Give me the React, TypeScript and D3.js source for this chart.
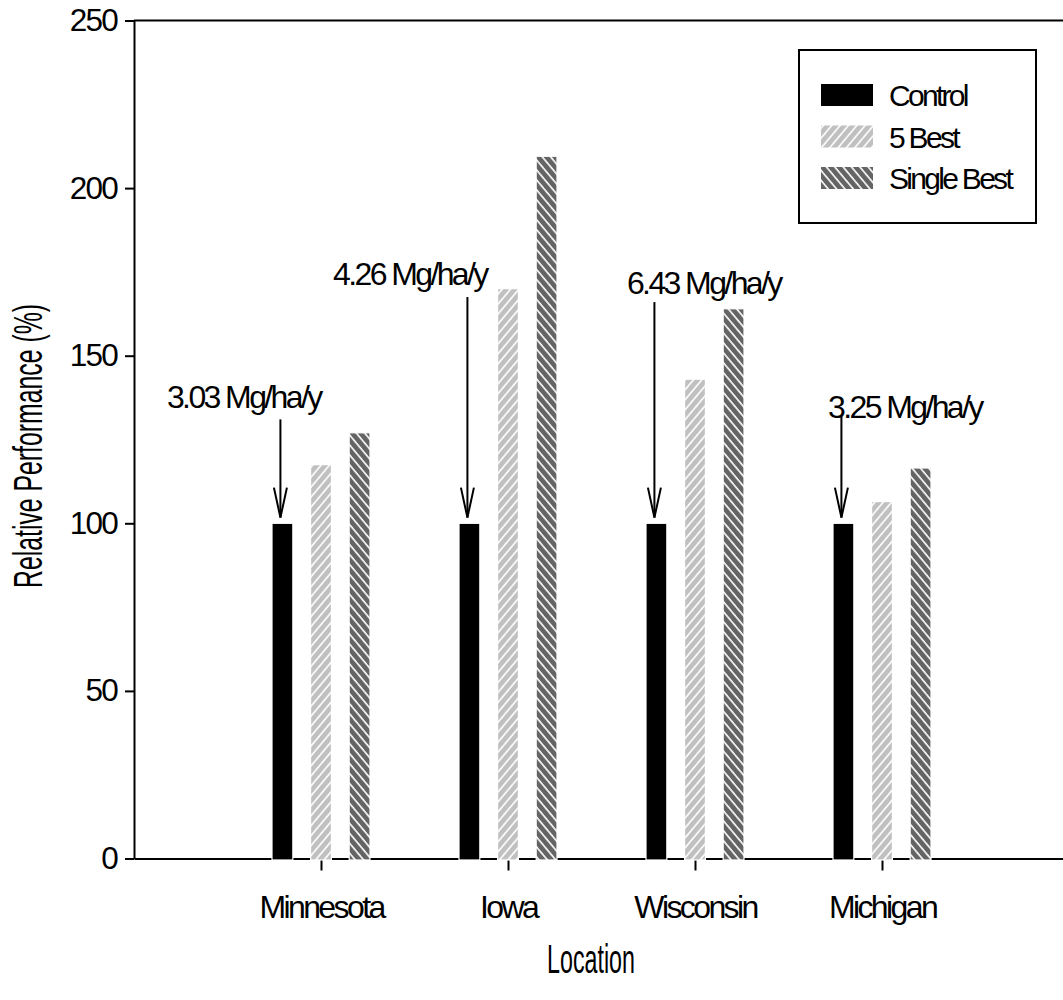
import * as React from 'react';
import * as d3 from 'd3';

// relative performance (% of control) per location
const locations = ['Minnesota', 'Iowa', 'Wisconsin', 'Michigan'];
const seriesNames = ['Control', '5 Best', 'Single Best'];
const control = [100, 100, 100, 100];
const fiveBest = [117.5, 170, 143, 106.5];
const singleBest = [127, 209.5, 164, 116.5];

// control yields written above the arrows
const yieldLabels = ['3.03 Mg/ha/y', '4.26 Mg/ha/y', '6.43 Mg/ha/y', '3.25 Mg/ha/y'];
const labelBaseline = [134.5, 171, 168.5, 131.5];
const arrowTop = [131, 167.5, 166, 132];
const labelStart = [0.176, 1.064, 2.636, 3.711];

const yTicks = [0, 50, 100, 150, 200, 250];

const W = 1063;
const H = 1000;
const FONT = 'Liberation Sans, Arial, sans-serif';

export default function App() {
  const svgRef = React.useRef<SVGSVGElement>(null);

  React.useEffect(() => {
    if (!svgRef.current) return;
    const svg = d3.select(svgRef.current);
    svg.selectAll('*').remove();

    const x = d3.scaleLinear().domain([0, 5]).range([134, 1069]);
    const y = d3.scaleLinear().domain([0, 250]).range([858.5, 20.5]);
    const inner = d3.scaleBand().domain(seriesNames).range([-49, 49]).paddingInner(0.46);

    const defs = svg.append('defs');
    const hatch = (id: string, bg: string, angle: number) => {
      const s = 6.4;
      const p = defs
        .append('pattern')
        .attr('id', id)
        .attr('patternUnits', 'userSpaceOnUse')
        .attr('width', s)
        .attr('height', s)
        .attr('patternTransform', `rotate(${angle})`);
      p.append('rect').attr('width', s).attr('height', s).attr('fill', bg);
      p.append('line')
        .attr('x1', 1)
        .attr('x2', 1)
        .attr('y1', 0)
        .attr('y2', s)
        .attr('stroke', '#fff')
        .attr('stroke-width', 1.6);
    };
    hatch('h-five', '#c0c0c0', 40);
    hatch('h-single', '#646464', -40);
    const fills = ['#000', 'url(#h-five)', 'url(#h-single)'];
    const values = [control, fiveBest, singleBest];

    // y axis
    const yAxis = d3.axisLeft(y).tickValues(yTicks).tickSize(9).tickSizeOuter(0).tickPadding(8);
    const yg = svg.append('g').attr('transform', `translate(${x(0)},0)`).call(yAxis);
    yg.select('.domain').attr('stroke-width', 2);
    yg.selectAll('.tick line').attr('stroke-width', 2);
    yg.selectAll('.tick text')
      .attr('font-family', FONT)
      .attr('font-size', 31.5)
      .attr('letter-spacing', -1.8)
      .attr('fill', '#000');

    // top frame line
    svg.append('line')
      .attr('x1', x(0))
      .attr('x2', x(5))
      .attr('y1', y(250))
      .attr('y2', y(250))
      .attr('stroke', '#000')
      .attr('stroke-width', 2);

    // x axis
    const xAxis = d3
      .axisBottom(x)
      .tickValues([1, 2, 3, 4])
      .tickFormat((d) => locations[Number(d) - 1])
      .tickSize(12)
      .tickSizeOuter(0)
      .tickPadding(25);
    const xg = svg.append('g').attr('transform', `translate(0,${y(0)})`).call(xAxis);
    xg.select('.domain').attr('stroke-width', 2);
    xg.selectAll('.tick line').attr('stroke-width', 2);
    xg.selectAll('.tick text')
      .attr('font-family', FONT)
      .attr('font-size', 32)
      .attr('letter-spacing', -2.6)
      .attr('fill', '#000');

    // bars
    const bars = svg.append('g');
    locations.forEach((loc, i) => {
      seriesNames.forEach((s, j) => {
        const v = values[j][i];
        bars
          .append('rect')
          .attr('x', x(i + 1) + (inner(s) as number))
          .attr('y', y(v))
          .attr('width', inner.bandwidth())
          .attr('height', y(0) - y(v) + 1.5)
          .attr('fill', fills[j])
          .attr('stroke', '#fff')
          .attr('stroke-width', 1.2);
      });
    });

    // yield annotations with arrows
    const ann = svg.append('g');
    locations.forEach((loc, i) => {
      const cx = x(i + 1) + (inner('Control') as number) + inner.bandwidth() / 2 - 2;
      const tip = y(101.7);
      ann.append('line')
        .attr('x1', cx)
        .attr('x2', cx)
        .attr('y1', y(arrowTop[i]))
        .attr('y2', tip)
        .attr('stroke', '#000')
        .attr('stroke-width', 2);
      ann.append('path')
        .attr('d', `M${cx - 6.5},${tip - 30}L${cx},${tip}L${cx + 6.5},${tip - 30}`)
        .attr('fill', 'none')
        .attr('stroke', '#000')
        .attr('stroke-width', 2);
      ann.append('text')
        .attr('x', x(labelStart[i]))
        .attr('y', y(labelBaseline[i]))
        .attr('font-family', FONT)
        .attr('font-size', 32)
        .attr('letter-spacing', -2.6)
        .text(yieldLabels[i]);
    });

    // legend
    const lg = svg.append('g');
    lg.append('rect')
      .attr('x', 799)
      .attr('y', 50)
      .attr('width', 237)
      .attr('height', 173)
      .attr('fill', '#fff')
      .attr('stroke', '#000')
      .attr('stroke-width', 2);
    seriesNames.forEach((s, j) => {
      const ry = 84 + j * 41.5;
      lg.append('rect').attr('x', 821).attr('y', ry).attr('width', 52).attr('height', 22).attr('fill', fills[j]);
      lg.append('text')
        .attr('x', 889)
        .attr('y', ry + 22)
        .attr('font-family', FONT)
        .attr('font-size', 30)
        .attr('letter-spacing', -2.7)
        .text(s);
    });

    // axis titles
    svg.append('text')
      .attr('transform', `translate(42,446) rotate(-90)`)
      .attr('text-anchor', 'middle')
      .attr('font-family', FONT)
      .attr('font-size', 40)
      .attr('textLength', 284)
      .attr('lengthAdjust', 'spacingAndGlyphs')
      .text('Relative Performance (%)');
    svg.append('text')
      .attr('x', 591)
      .attr('y', 973)
      .attr('text-anchor', 'middle')
      .attr('font-family', FONT)
      .attr('font-size', 41)
      .attr('textLength', 88)
      .attr('lengthAdjust', 'spacingAndGlyphs')
      .text('Location');
  }, []);

  return (
    <svg
      ref={svgRef}
      width={W}
      height={H}
      style={{ position: 'absolute', left: 0, top: 0, background: '#fff', display: 'block' }}
    />
  );
}
